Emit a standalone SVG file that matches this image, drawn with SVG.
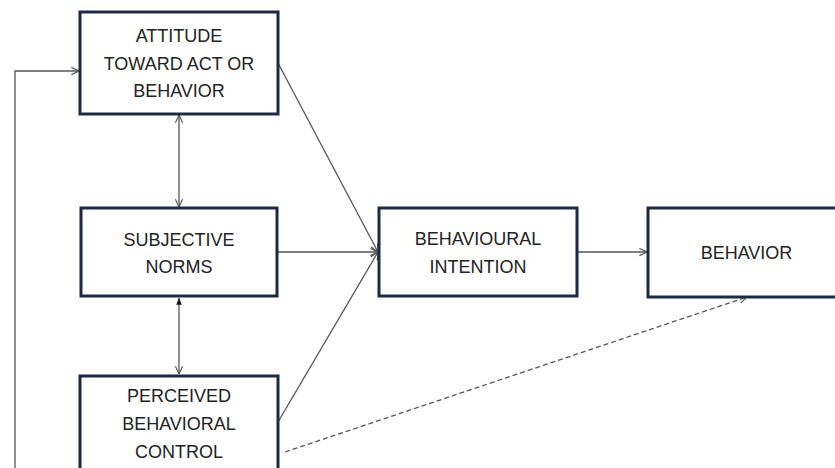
<svg xmlns="http://www.w3.org/2000/svg" width="835" height="468" viewBox="0 0 835 468">
  <style>
    .box { fill: #ffffff; stroke: #1c2a45; stroke-width: 3; }
    .lbl { font-family: "Liberation Sans", Arial, sans-serif; font-size: 18px; fill: #222222; text-anchor: middle; }
    .link { fill: none; stroke: #555555; stroke-width: 1.3; }
    .dash { stroke-dasharray: 5 3; }
  </style>
  <defs>
    <marker id="open" viewBox="0 0 10 10" refX="9.5" refY="5" markerWidth="9" markerHeight="9" markerUnits="userSpaceOnUse" orient="auto-start-reverse">
      <path d="M1,1 L9.5,5 L1,9" fill="none" stroke="#555555" stroke-width="1.3"/>
    </marker>
    <marker id="solid" viewBox="0 0 10 10" refX="9.5" refY="5" markerWidth="8" markerHeight="8" markerUnits="userSpaceOnUse" orient="auto-start-reverse">
      <path d="M1,1.5 L9.5,5 L1,8.5 Z" fill="#111111"/>
    </marker>
  </defs>
  <rect width="835" height="468" fill="#ffffff"/>

  <!-- connectors -->
  <g id="connectors">
    <polyline class="link" points="15,470 15,71 79,71" marker-end="url(#open)"/>
    <line class="link" x1="179" y1="115" x2="179" y2="207" marker-start="url(#open)" marker-end="url(#open)"/>
    <line class="link" x1="179" y1="298" x2="179" y2="374" marker-start="url(#solid)" marker-end="url(#open)"/>
    <line class="link" x1="278" y1="63" x2="378" y2="252" marker-end="url(#open)"/>
    <line class="link" x1="278" y1="252" x2="378" y2="252" marker-end="url(#open)"/>
    <line class="link" x1="278" y1="422" x2="378" y2="252" marker-end="url(#open)"/>
    <line class="link" x1="577" y1="252" x2="647" y2="252" marker-end="url(#open)"/>
    <line class="link dash" x1="285" y1="452" x2="747" y2="297" marker-end="url(#open)"/>
  </g>

  <g id="attitude">
    <rect class="box" x="80" y="12" width="198" height="102"/>
    <text class="lbl" x="179" y="41.5">ATTITUDE</text>
    <text class="lbl" x="179" y="69.5">TOWARD ACT OR</text>
    <text class="lbl" x="179" y="97">BEHAVIOR</text>
  </g>

  <g id="subjective-norms">
    <rect class="box" x="81" y="208" width="196" height="88"/>
    <text class="lbl" x="179" y="245.5">SUBJECTIVE</text>
    <text class="lbl" x="179" y="273">NORMS</text>
  </g>

  <g id="perceived-control">
    <rect class="box" x="80" y="376" width="198" height="100"/>
    <text class="lbl" x="179" y="401.5">PERCEIVED</text>
    <text class="lbl" x="179" y="429.5">BEHAVIORAL</text>
    <text class="lbl" x="179" y="457.5">CONTROL</text>
  </g>

  <g id="intention">
    <rect class="box" x="379" y="208" width="198" height="88"/>
    <text class="lbl" x="478" y="245">BEHAVIOURAL</text>
    <text class="lbl" x="478" y="273">INTENTION</text>
  </g>

  <g id="behavior">
    <rect class="box" x="648" y="208" width="200" height="89"/>
    <text class="lbl" x="746.5" y="259">BEHAVIOR</text>
  </g>
</svg>
